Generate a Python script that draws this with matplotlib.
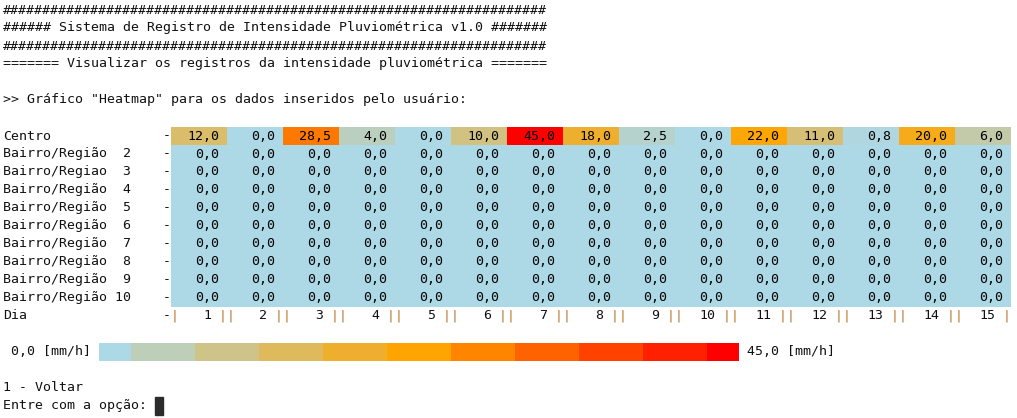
import numpy as np
import matplotlib.pyplot as plt
from matplotlib.colors import LinearSegmentedColormap, Normalize

# dados
dias = np.arange(1, 16)
centro = [12.0, 0.0, 28.5, 4.0, 0.0, 10.0, 45.0, 18.0, 2.5, 0.0, 22.0, 11.0, 0.8, 20.0, 6.0]
regioes = ['Centro', 'Bairro/Região  2', 'Bairro/Regiao  3', 'Bairro/Região  4',
           'Bairro/Região  5', 'Bairro/Região  6', 'Bairro/Região  7', 'Bairro/Região  8',
           'Bairro/Região  9', 'Bairro/Região 10']
outros = np.zeros((9, 15))
vmin, vmax = 0.0, 45.0
niveis = np.linspace(vmin, vmax, 11)

cabecalho = ['#' * 68,
             '###### Sistema de Registro de Intensidade Pluviométrica v1.0 #######',
             '#' * 68,
             '======= Visualizar os registros da intensidade pluviométrica =======',
             '',
             '>> Gráfico "Heatmap" para os dados inseridos pelo usuário:']
rodape = ['1 - Voltar', 'Entre com a opção: ']

dados = np.vstack([centro, outros])

def fmt(v):
    return ('%.1f' % v).replace('.', ',')

# terminal em unidades de caractere (8px x 18px)
W, H = 1017, 418
cw, lh = 8.0, 18.0
fig = plt.figure(figsize=(W / 100, H / 100), dpi=100)
ax = fig.add_axes([0, 0, 1, 1])
ax.set_xlim(-3 / cw, (W - 3) / cw)
ax.set_ylim((H - 1) / lh, -1 / lh)
ax.axis('off')

fs = cw / 0.602 * 72 / 100
tc = '#111111'
fam = 'DejaVu Sans Mono'

def linha(txt, lin, col=0, **kw):
    kw.setdefault('color', tc)
    ax.text(col, lin + 0.5, txt, fontsize=fs, family=fam, va='center', ha='left', **kw)

for i, t in enumerate(cabecalho):
    linha(t, i)

cmap = LinearSegmentedColormap.from_list('chuva', ['lightblue', 'orange', 'red'])
norm = Normalize(vmin, vmax)

# heatmap
l0 = 7
c0 = 21
xe = c0 + 7 * np.arange(len(dias) + 1)
ye = l0 + np.arange(dados.shape[0] + 1)
ax.pcolormesh(xe, ye, dados, cmap=cmap, norm=norm)

for r, nome in enumerate(regioes):
    linha(nome, l0 + r)
    linha('-', l0 + r, 20)
    for j in range(len(dias)):
        ax.text(xe[j + 1] - 1, l0 + r + 0.5, fmt(dados[r, j]), fontsize=fs, family=fam,
                va='center', ha='right', color='black')

ld = l0 + len(regioes)
linha('Dia', ld)
linha('-', ld, 20)
pc = '#b8772e'
for j, d in enumerate(dias):
    ax.text(xe[j] + 0.5, ld + 0.5, '|', fontsize=fs, family=fam, va='center', ha='center', color=pc)
    ax.text(xe[j + 1] - 2, ld + 0.5, str(d), fontsize=fs, family=fam, va='center', ha='right', color=tc)
    ax.text(xe[j + 1] - 0.5, ld + 0.5, '|', fontsize=fs, family=fam, va='center', ha='center', color=pc)

# barra de cores
lb = ld + 2
be = np.concatenate([[12], 16 + 8 * np.arange(10), [92]])
ax.pcolormesh(be, [lb, lb + 1], niveis[None, :], cmap=cmap, norm=norm)
linha(' %s [mm/h]' % fmt(vmin), lb)
linha(' %s [mm/h]' % fmt(vmax), lb, 92)

lr = lb + 2
for i, t in enumerate(rodape):
    linha(t, lr + i)
ax.add_patch(plt.Rectangle((len(rodape[1]), lr + 1), 1, 1, color='#2b2b2b'))

fig.savefig('out.png', dpi=100, facecolor='white')
